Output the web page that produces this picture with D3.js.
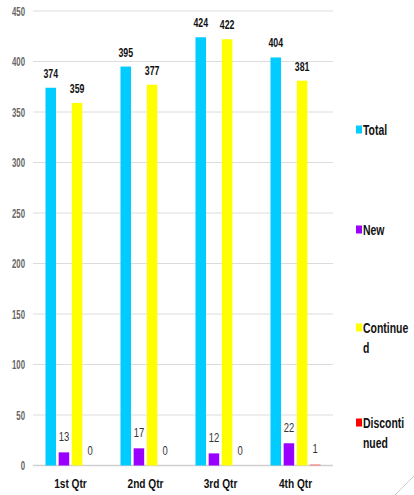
<!DOCTYPE html>
<html><head><meta charset="utf-8">
<script src="https://cdn.jsdelivr.net/npm/d3@7"></script>
<style>html,body{margin:0;padding:0;background:#fff;}svg{display:block;}</style>
</head><body>
<script>
const categories = ["1st Qtr", "2nd Qtr", "3rd Qtr", "4th Qtr"];
const seriesNames = ["Total", "New", "Continued", "Discontinued"];
const legendLines = [["Total"], ["New"], ["Continue", "d"], ["Disconti", "nued"]];
const totalValues = [374, 395, 424, 404];
const newValues = [13, 17, 12, 22];
const continuedValues = [359, 377, 422, 381];
const discontinuedValues = [0, 0, 0, 1];
const yTicks = [0, 50, 100, 150, 200, 250, 300, 350, 400, 450];
const colors = ["#00CCFF", "#9900FF", "#FFFF00", "#FF0000"];

const seriesValues = [totalValues, newValues, continuedValues, discontinuedValues];
const W = 414, H = 495;
const font = "'Liberation Sans',Arial,sans-serif";
const svg = d3.select("body").append("svg").attr("width", W).attr("height", H);

// condensed text helper (narrow font look via horizontal scaling)
function ntext(parent, x, yy, str, opt) {
  return parent.append("text")
    .attr("transform", `translate(${x},${yy}) scale(${opt.sx},1)`)
    .attr("text-anchor", opt.anchor || "start")
    .attr("dy", opt.dy || null)
    .attr("font-family", font)
    .attr("font-size", opt.size)
    .attr("font-weight", opt.weight || "bold")
    .attr("fill", opt.fill || "#111")
    .text(str);
}

const x0 = d3.scaleBand().domain(categories).range([33, 333]).paddingInner(1/3).paddingOuter(1/6);
const x1 = d3.scaleBand().domain(seriesNames).range([0, x0.bandwidth()]).paddingInner(0.2);
const y = d3.scaleLinear().domain([0, 450]).range([465.5, 11]);

// gridlines
svg.append("g").selectAll("line").data(yTicks).join("line")
  .attr("x1", 33).attr("x2", 333)
  .attr("y1", d => y(d)).attr("y2", d => y(d))
  .attr("stroke", d => d === 0 ? "#d0d0d0" : "#dcdcdc")
  .attr("stroke-width", d => d === 0 ? 1.5 : 1);

// y tick labels
const yl = svg.append("g");
yTicks.forEach(d => ntext(yl, 25, y(d), d, {sx: 0.6, anchor: "end", dy: "0.36em", size: 13, weight: "bold", fill: "#666"}));

// bars
const groups = svg.append("g").selectAll("g").data(categories).join("g")
  .attr("transform", c => `translate(${x0(c)},0)`);

groups.each(function(c, ci) {
  const g = d3.select(this);
  seriesNames.forEach((s, si) => {
    const v = seriesValues[si][ci];
    if (v > 0) {
      g.append("rect")
        .attr("x", x1(s)).attr("width", x1.bandwidth())
        .attr("y", y(v)).attr("height", y(0) - y(v))
        .attr("fill", si === 3 ? "#FF7070" : colors[si]);
    }
    const big = si === 0 || si === 2;
    ntext(g, x1(s) + x1.bandwidth() / 2, y(v) - (big ? 10 : 11), v, {
      sx: big ? 0.65 : 0.7, anchor: "middle", size: 13.5,
      weight: big ? "bold" : "normal", fill: big ? "#111" : "#333"
    });
  });
});

// x labels
const xl = svg.append("g");
categories.forEach(c => ntext(xl, x0(c) + x0.bandwidth() / 2, 488, c, {sx: 0.75, anchor: "middle", size: 13.5}));

// legend
const legendY = [130, 230, 328, 423];
const lg = svg.append("g");
seriesNames.forEach((s, i) => {
  lg.append("rect").attr("x", 356).attr("y", legendY[i] - 4.5).attr("width", 6).attr("height", 8)
    .attr("fill", colors[i]);
  legendLines[i].forEach((t, j) => {
    ntext(lg, 363, legendY[i] + j * 20, t, {sx: 0.72, dy: "0.36em", size: 14.5});
  });
});

// faint page-corner stroke
svg.append("line").attr("x1", 395).attr("y1", 495).attr("x2", 414).attr("y2", 476)
  .attr("stroke", "#ccc").attr("stroke-width", 1);
</script>
</body></html>
